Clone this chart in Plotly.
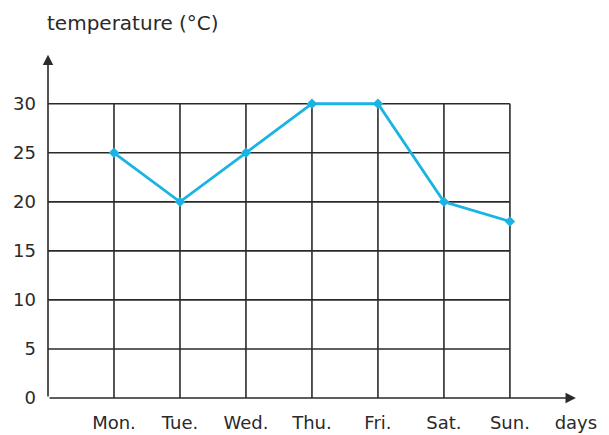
import plotly.graph_objects as go

days = ["Mon.", "Tue.", "Wed.", "Thu.", "Fri.", "Sat.", "Sun."]
temps = [25, 20, 25, 30, 30, 20, 18]
y_ticks = [0, 5, 10, 15, 20, 25, 30]

INK = "#2a2a2a"
BLUE = "#1ab4e3"
FONT = dict(family="DejaVu Sans, Liberation Sans, sans-serif", size=18, color=INK)

xs = list(range(1, len(days) + 1))
x_end = xs[-1]
y_top = y_ticks[-1]

fig = go.Figure(go.Scatter(
    x=xs, y=temps, mode="lines+markers",
    line=dict(color=BLUE, width=2.8),
    marker=dict(symbol="diamond", size=8, color=BLUE),
    cliponaxis=False, showlegend=False,
))

# grid, only inside the Mon..Sun / 0..30 box
shapes = []
for v in y_ticks[1:]:
    shapes.append(dict(type="line", xref="x", yref="y", x0=0, x1=x_end, y0=v, y1=v,
                       line=dict(color=INK, width=1.6), layer="below"))
for x in xs:
    shapes.append(dict(type="line", xref="x", yref="y", x0=x, x1=x, y0=0, y1=y_top,
                       line=dict(color=INK, width=1.6), layer="below"))

# axes with arrowheads
arrows = [
    dict(x=x_end + 1, y=0, ax=0, ay=0),
    dict(x=0, y=y_top + 5, ax=0, ay=0),
]
annotations = [dict(xref="x", yref="y", axref="x", ayref="y", text="", showarrow=True,
                    arrowhead=2, arrowsize=1.3, arrowwidth=1.6, arrowcolor=INK, **a)
               for a in arrows]
annotations.append(dict(xref="paper", yref="paper", x=-0.005, y=1.0475, xanchor="left",
                        yanchor="middle", text="temperature (°C)", showarrow=False,
                        font=dict(FONT, size=20)))

fig.update_layout(
    width=601, height=427,
    margin=dict(l=40, r=10, t=32, b=37),
    paper_bgcolor="white", plot_bgcolor="white",
    font=FONT,
    shapes=shapes, annotations=annotations,
    xaxis=dict(range=[0, 8.35], tickvals=xs + [x_end + 1], ticktext=days + ["days"],
               showgrid=False, zeroline=False, showline=False, ticks="",
               ticklabelstandoff=12, tickfont=FONT, automargin=False),
    yaxis=dict(range=[0, 36.5], tickvals=y_ticks, showgrid=False, zeroline=False,
               showline=False, ticks="", ticklabelstandoff=11, tickfont=FONT,
               automargin=False),
)

fig.write_html("out.html")
